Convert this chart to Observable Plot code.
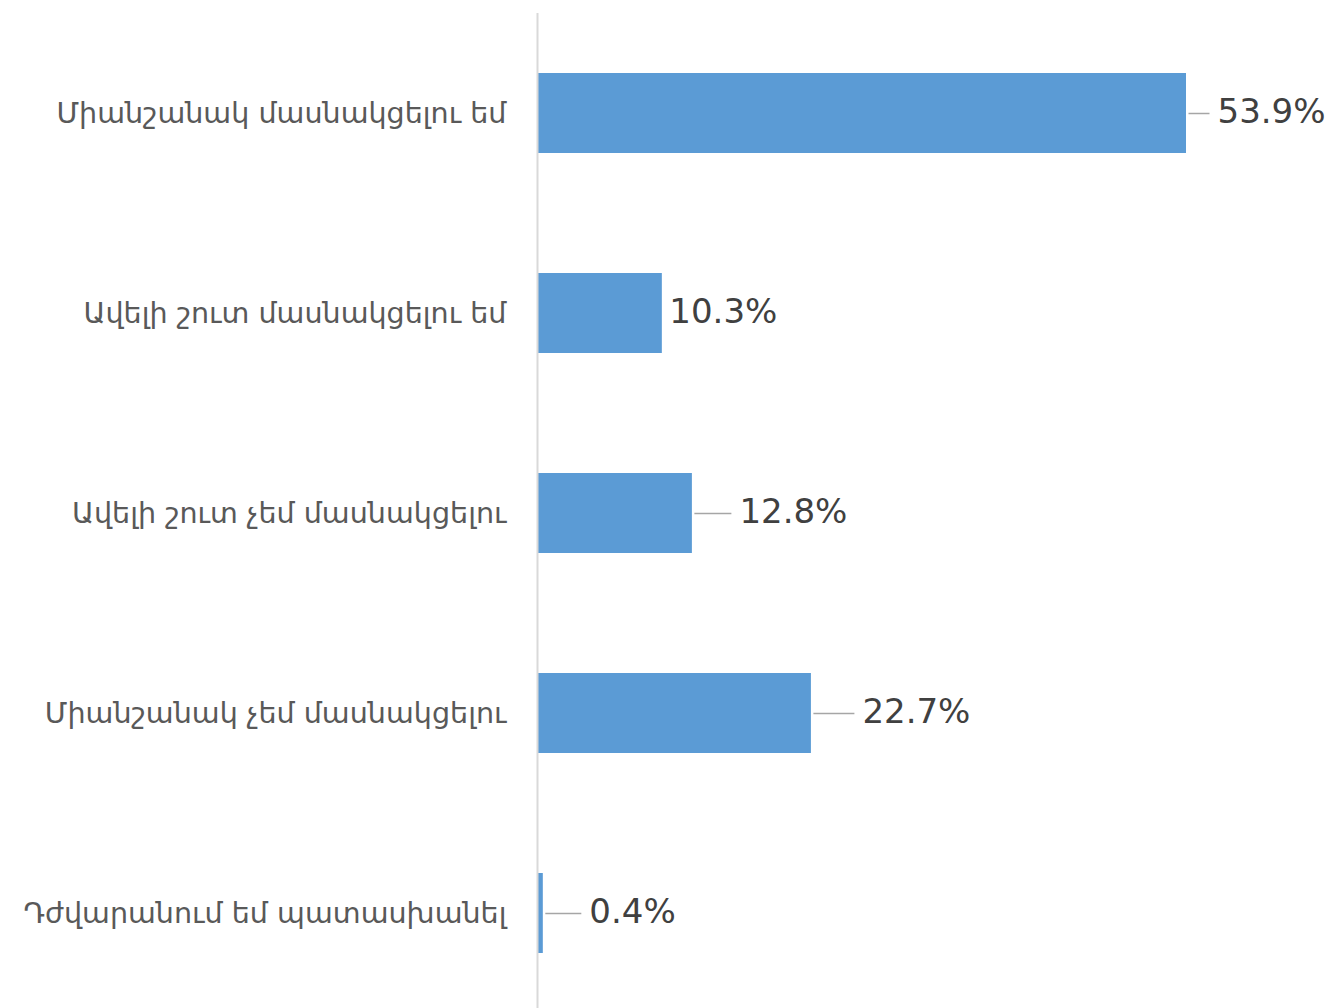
<!DOCTYPE html>
<html>
<head>
<meta charset="utf-8">
<script src="https://cdn.jsdelivr.net/npm/d3@7"></script>
<script src="https://cdn.jsdelivr.net/npm/@observablehq/plot@0.6"></script>
<style>
  html, body { margin: 0; padding: 0; background: #fff; }
  #chart svg { display: block; }
</style>
</head>
<body>
<div id="chart"></div>
<script>
const categories = [
  "Միանշանակ մասնակցելու եմ",
  "Ավելի շուտ մասնակցելու եմ",
  "Ավելի շուտ չեմ մասնակցելու",
  "Միանշանակ չեմ մասնակցելու",
  "Դժվարանում եմ պատասխանել"
];
const values = [53.9, 10.3, 12.8, 22.7, 0.4];
const valueLabels = ["53.9%", "10.3%", "12.8%", "22.7%", "0.4%"];
// gap (px) between bar end and value label; leader line drawn when gap is large
const labelGaps = [31, 7, 47, 51, 46];

const data = categories.map((c, i) => ({
  category: c, value: values[i], label: valueLabels[i], gap: labelGaps[i]
}));

const W = 1332, H = 1008;
const xRange = [538, 1186];
const xDomain = [0, 53.9];
const pxPerUnit = (xRange[1] - xRange[0]) / (xDomain[1] - xDomain[0]);
const labelData = data.map(d => ({...d, lx: d.value + d.gap / pxPerUnit}));
const leaderData = data.filter(d => d.gap > 20).map(d => ({
  ...d, x1: d.value + 2 / pxPerUnit, x2: d.value + (d.gap - 8) / pxPerUnit
}));

const chart = Plot.plot({
  width: W,
  height: H,
  marginTop: 13,
  marginBottom: 0,
  marginLeft: 0,
  marginRight: 0,
  x: {domain: xDomain, range: xRange, axis: null},
  y: {domain: categories, range: [13, 1013], paddingInner: 0.6, paddingOuter: 0.3, axis: null},
  style: {fontFamily: "'DejaVu Sans', Verdana, sans-serif"},
  marks: [
    Plot.barX(data, {y: "category", x: "value", fill: "#5B9BD5", insetLeft: -1}),
    Plot.ruleX([0], {stroke: "#d9d9d9", strokeWidth: 2, dx: -1}),
    Plot.link(leaderData, {x1: "x1", x2: "x2", y1: "category", y2: "category", stroke: "#a6a6a6", strokeWidth: 1.5}),
    Plot.text(labelData, {x: "lx", y: "category", text: "label", textAnchor: "start", fill: "#404040", fontSize: 34, dy: -1}),
    Plot.text(data, {x: 0, y: "category", text: "category", textAnchor: "end", dx: -32, fill: "#595959", fontSize: 28.6})
  ]
});
document.getElementById("chart").appendChild(chart);
</script>
</body>
</html>
